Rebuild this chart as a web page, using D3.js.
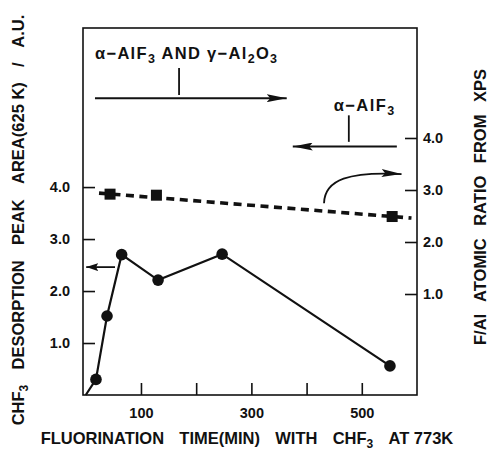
<!DOCTYPE html>
<html>
<head>
<meta charset="utf-8">
<script src="https://cdn.jsdelivr.net/npm/d3@7"></script>
<style>
  html, body { margin: 0; padding: 0; background: #fff; }
  svg text { font-family: "Liberation Sans", Arial, Helvetica, sans-serif; font-weight: bold; fill: #111; }
</style>
</head>
<body>
<svg id="chart" width="487" height="452"></svg>
<script>
// Fluorination time (min) and CHF3 desorption peak area (left axis)
const peakTimes = [18.5, 38.5, 65, 131, 247, 551];
const peakArea  = [0.30, 1.52, 2.70, 2.21, 2.71, 0.56];
const peakOrigin = [0, 0];

// F/Al atomic ratio from XPS (right axis)
const ratioTimes = [44, 128, 555];
const ratioValues = [2.92, 2.90, 2.49];
// straight dashed trend through the ratio points
const trendTimes = [24, 590];
const trendValues = [2.94, 2.46];

// axis ticks
const xTicks = [100, 200, 300, 400, 500];
const xTickLabels = ["100", "", "300", "", "500"];
const leftTicks = [1, 2, 3, 4];
const rightTicks = [1, 2, 3, 4];

const svg = d3.select("#chart");
const frame = { left: 83, right: 417, top: 28, bottom: 395 };

const x = d3.scaleLinear().domain([-5, 600]).range([frame.left, frame.right]);
const yL = d3.scaleLinear().domain([0, 7.06]).range([frame.bottom, frame.top]);
const yR = d3.scaleLinear().domain([-0.942, 6.115]).range([frame.bottom, frame.top]);

const defs = svg.append("defs");
function marker(id, w, h) {
  defs.append("marker")
    .attr("id", id).attr("viewBox", `0 0 ${w} ${h}`)
    .attr("refX", w).attr("refY", h / 2)
    .attr("markerWidth", w).attr("markerHeight", h)
    .attr("markerUnits", "userSpaceOnUse")
    .attr("orient", "auto")
    .append("path").attr("d", `M0,0 L${w},${h / 2} L0,${h} L${w * 0.18},${h / 2} Z`).attr("fill", "#111");
}
marker("bigHead", 20, 8);
marker("smallHead", 12, 8);

// plot frame
svg.append("rect")
  .attr("x", frame.left).attr("y", frame.top)
  .attr("width", frame.right - frame.left).attr("height", frame.bottom - frame.top)
  .attr("fill", "none").attr("stroke", "#111").attr("stroke-width", 1.6);

function styleAxis(g) {
  g.select(".domain").remove();
  g.selectAll(".tick line").attr("stroke", "#111").attr("stroke-width", 1.6);
  g.selectAll(".tick text").attr("font-size", 14.5).attr("fill", "#111");
}

svg.append("g")
  .attr("transform", `translate(0,${frame.bottom})`)
  .call(d3.axisBottom(x).tickValues(xTicks).tickSize(-12).tickPadding(13)
    .tickFormat((d, i) => xTickLabels[i]))
  .call(styleAxis);

svg.append("g")
  .attr("transform", `translate(${frame.left},0)`)
  .call(d3.axisLeft(yL).tickValues(leftTicks).tickSize(-12).tickPadding(13)
    .tickFormat(d3.format(".1f")))
  .call(styleAxis);

svg.append("g")
  .attr("transform", `translate(${frame.right},0)`)
  .call(d3.axisRight(yR).tickValues(rightTicks).tickSize(-12).tickPadding(6)
    .tickFormat(d3.format(".1f")))
  .call(styleAxis);

// dashed F/Al trend
svg.append("path")
  .datum(d3.zip(trendTimes, trendValues))
  .attr("d", d3.line().x(d => x(d[0])).y(d => yR(d[1])))
  .attr("fill", "none").attr("stroke", "#111").attr("stroke-width", 3.6)
  .attr("stroke-dasharray", "8,5.5");

svg.selectAll("rect.ratio")
  .data(d3.zip(ratioTimes, ratioValues))
  .join("rect").attr("class", "ratio")
  .attr("x", d => x(d[0]) - 5.5).attr("y", d => yR(d[1]) - 5.5)
  .attr("width", 11).attr("height", 11).attr("fill", "#111");

// CHF3 desorption peak area
const peakPts = [peakOrigin].concat(d3.zip(peakTimes, peakArea));
svg.append("path")
  .datum(peakPts)
  .attr("d", d3.line().x(d => x(d[0])).y(d => yL(d[1])))
  .attr("fill", "none").attr("stroke", "#111").attr("stroke-width", 2.2);

svg.selectAll("circle.peak")
  .data(d3.zip(peakTimes, peakArea))
  .join("circle").attr("class", "peak")
  .attr("cx", d => x(d[0])).attr("cy", d => yL(d[1]))
  .attr("r", 5.8).attr("fill", "#111");

// text with subscripts; parts flagged "tight" keep their inner spaces narrow
function richText(parts, size, subSize) {
  const txt = svg.append("text").attr("font-size", size);
  let gaps = 0;
  parts.forEach(p => {
    const ts = txt.append("tspan").text(p[0]);
    if (p[1] === "sub") ts.attr("font-size", subSize).attr("dy", 4);
    else if (p[1] === "up") ts.attr("dy", -4);
    if (p[2] === "tight") ts.style("word-spacing", "0px");
    else gaps += (p[0].match(/ +/g) || []).length;
  });
  txt.property("__gaps", gaps);
  return txt;
}
// stretch a label to a given width by letter or word spacing
function fitWidth(txt, width, mode) {
  const node = txt.node();
  const natural = node.getComputedTextLength();
  if (mode === "word") {
    const gaps = txt.property("__gaps");
    txt.style("word-spacing", `${Math.max(0, (width - natural) / gaps)}px`);
  } else {
    txt.style("letter-spacing", `${(width - natural) / node.textContent.length}px`);
  }
}

// phase annotations (minutes, left-axis units)
function seg(t1, v1, t2, v2, w, head) {
  const l = svg.append("line")
    .attr("x1", x(t1)).attr("y1", yL(v1)).attr("x2", x(t2)).attr("y2", yL(v2))
    .attr("stroke", "#111").attr("stroke-width", w);
  if (head) l.attr("marker-end", `url(#${head})`);
}

const topLabel = richText([["α−AlF"], ["3", "sub"], ["  AND  γ−Al", "up"], ["2", "sub"], ["O", "up"], ["3", "sub"]], 16.5, 12.5)
  .attr("x", x(16.7)).attr("y", yL(6.46));
fitWidth(topLabel, 186, "letter");
seg(169, 6.29, 169, 5.77, 1.8);
seg(16.7, 5.71, 364, 5.71, 2, "bigHead");

const rightLabel = richText([["α−AlF"], ["3", "sub"]], 16.5, 12.5)
  .attr("x", x(449)).attr("y", yL(5.46));
fitWidth(rightLabel, 62, "letter");
seg(476.5, 5.38, 476.5, 4.87, 1.8);
seg(563.5, 4.78, 375, 4.78, 2, "bigHead");

// curved pointer toward the right axis
const c0 = [431.6, 3.69], c1 = [433, 4.15], c2 = [478, 4.30], c3 = [572, 4.25];
const cp = d3.path();
cp.moveTo(x(c0[0]), yL(c0[1]));
cp.bezierCurveTo(x(c1[0]), yL(c1[1]), x(c2[0]), yL(c2[1]), x(c3[0]), yL(c3[1]));
svg.append("path").attr("d", cp.toString())
  .attr("fill", "none").attr("stroke", "#111").attr("stroke-width", 1.8)
  .attr("marker-end", "url(#bigHead)");

// small pointer toward the left axis
seg(53, 2.46, 0.8, 2.46, 1.8, "smallHead");

// axis titles
const lt = richText([["CHF"], ["3", "sub"], [" DESORPTION PEAK ", "up"], ["AREA(625 K)", null, "tight"], [" / A.U."]], 16.5, 12)
  .attr("transform", "translate(24,220) rotate(-90)")
  .attr("text-anchor", "middle");
fitWidth(lt, 410, "word");

const rt = richText([["F/Al ATOMIC RATIO FROM "], ["XPS", null, "tight"]], 16.5, 12)
  .attr("transform", "translate(485.5,207) rotate(-90)")
  .attr("text-anchor", "middle");
fitWidth(rt, 276, "word");

const bt = richText([["FLUORINATION TIME(MIN) WITH CHF"], ["3", "sub"], [" ", "up"], ["AT 773K", null, "tight"]], 16.5, 12)
  .attr("x", 247).attr("y", 444)
  .attr("text-anchor", "middle");
fitWidth(bt, 412, "word");
</script>
</body>
</html>
